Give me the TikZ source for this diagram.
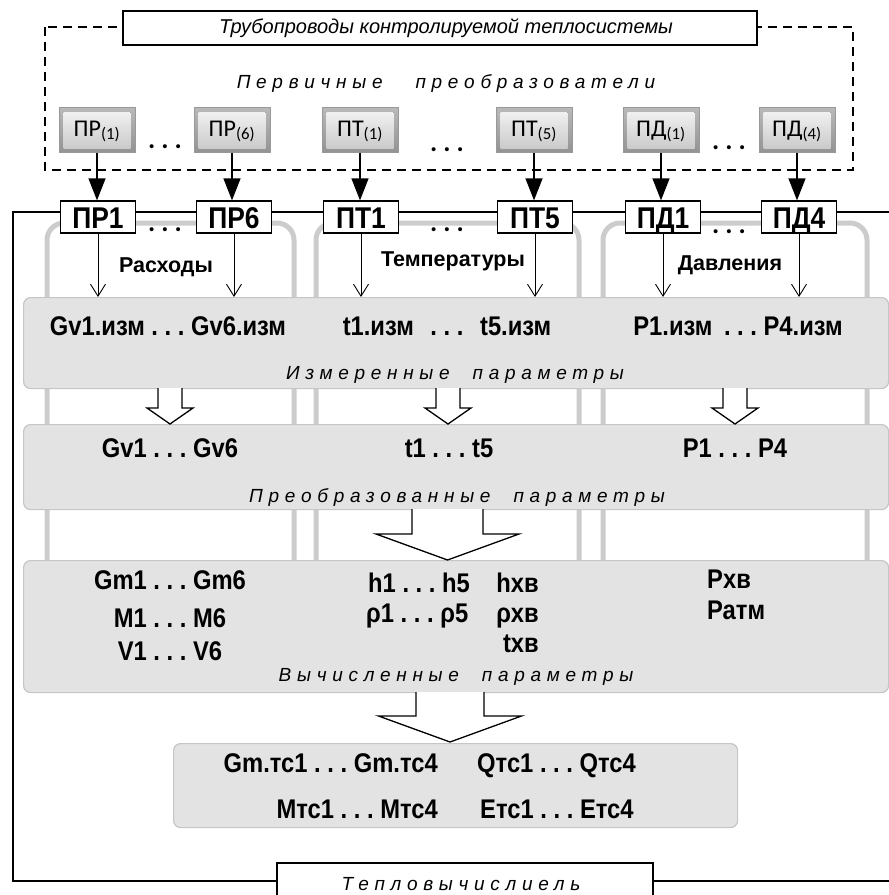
\documentclass[tikz,border=0pt]{standalone}
\usepackage{fontspec}
\setmainfont{Liberation Sans}
\newfontfamily\narrowsans[FakeStretch=0.88]{Liberation Sans}
\newfontfamily\spacedsans[LetterSpace=30]{Liberation Sans}
\newfontfamily\keysans{Carlito}
\usetikzlibrary{arrows.meta,calc}
\tikzset{
  sensor/.style={draw=gray!80,minimum width=76pt,minimum height=45pt,inner sep=0pt,
            top color=gray!55,bottom color=gray!85,text height=17pt,text depth=5pt,
            path picture={\fill[top color=gray!8,bottom color=gray!45]
              ($(path picture bounding box.south west)+(4.5pt,4.5pt)$) rectangle
              ($(path picture bounding box.north east)+(-4.5pt,-4.5pt)$);},
            font=\keysans\fontsize{24}{26}\selectfont},
  chan/.style={draw,line width=1.3pt,fill=white,minimum width=75pt,minimum height=32pt,
            inner sep=0pt,text height=22pt,text depth=0pt,
            font=\narrowsans\bfseries\fontsize{30}{32}\selectfont},
  parbox/.style={draw=gray!45,fill=gray!22,line width=1.2pt,rounded corners=7pt,
            anchor=north west,inner sep=0pt},
  column/.style={line width=5pt,gray!40,rounded corners=17pt},
  val/.style={font=\narrowsans\bfseries\fontsize{27}{30}\selectfont,inner sep=0pt,anchor=base},
  group/.style={font=\bfseries\fontsize{21.5}{24}\selectfont,inner sep=0pt,anchor=base},
  caption/.style={font=\spacedsans\itshape\fontsize{19}{22}\selectfont,inner sep=0pt,anchor=base},
  dots/.style={font=\keysans\bfseries\fontsize{27}{28}\selectfont,inner sep=0pt,anchor=base},
  feed/.style={-{Triangle[length=22pt,width=17pt]},line width=1.3pt},
  wire/.style={-{Straight Barb[length=12pt,width=15pt]},line width=0.9pt},
  hollow/.style={draw,fill=white,line width=1.3pt,line join=miter},
  frame/.style={line width=1.3pt},
  dashframe/.style={line width=1.3pt,dash pattern=on 9pt off 6pt},
}
% x, top, tip, stem half width, head half width, head length
\newcommand\hollowarrow[6]{%
  \draw[hollow] (#1-#4,#2) -- (#1-#4,#3-#6) -- (#1-#5,#3-#6) -- (#1,#3)
    -- (#1+#5,#3-#6) -- (#1+#4,#3-#6) -- (#1+#4,#2);}

\begin{document}
\frenchspacing
\begin{tikzpicture}[x=1pt,y=-1pt]
  \useasboundingbox (0,0) rectangle (889,895);
  \clip (0,0) rectangle (889,895);

  % primary transducers
  \draw[dashframe] (45,27) rectangle (853,170);
  \node[draw,frame,fill=white,minimum width=634pt,minimum height=34pt,inner sep=0pt,
        font=\itshape\fontsize{20}{22}\selectfont] (pipes) at (440,28)
        {\hspace{12pt}Трубопроводы контролируемой теплосистемы};
  \node[caption] (primary) at (446,88) {Первичные\hspace{22pt} преобразователи};

  \node[sensor] (sPR1) at (97,130)  {ПР\textsubscript{(1)}};
  \node[sensor] (sPR6) at (232,130) {ПР\textsubscript{(6)}};
  \node[sensor] (sPT1) at (360,130) {ПТ\textsubscript{(1)}};
  \node[sensor] (sPT5) at (534,130) {ПТ\textsubscript{(5)}};
  \node[sensor] (sPD1) at (661,130) {ПД\textsubscript{(1)}};
  \node[sensor] (sPD4) at (797,130) {ПД\textsubscript{(4)}};
  \node[dots] (sd1) at (165,148) {. . .};
  \node[dots] (sd2) at (447,151) {. . .};
  \node[dots] (sd3) at (729,149) {. . .};

  % heat calculator
  \draw[column] (47,600) -- (47,223) -- (294,223) -- (294,600);
  \draw[column] (316,600) -- (316,223) -- (579,223) -- (579,600);
  \draw[column] (603,600) -- (603,223) -- (867,223) -- (867,600);
  \draw[frame] (900,212) -- (13,212) -- (13,881) -- (900,881);
  \node[draw,frame,fill=white,minimum width=376pt,minimum height=46pt,inner sep=0pt]
        (calc) at (465,886) {};
  \node[caption] (calctext) at (461,890) {Тепловычислиель};

  \node[chan] (kPR1) at (98,217)  {ПР1};
  \node[chan] (kPR6) at (234,217) {ПР6};
  \node[chan] (kPT1) at (361,217) {ПТ1};
  \node[chan] (kPT5) at (535,217) {ПТ5};
  \node[chan] (kPD1) at (663,217) {ПД1};
  \node[chan] (kPD4) at (799,217) {ПД4};
  \node[dots] (kd1) at (165,231) {. . .};
  \node[dots] (kd2) at (447,231) {. . .};
  \node[dots] (kd3) at (729,233) {. . .};
  \node[group] (flows) at (166,272) {Расходы};
  \node[group] (temps) at (453,266) {Температуры};
  \node[group] (press) at (730,270) {Давления};

  \foreach \s in {PR1,PR6,PT1,PT5,PD1,PD4}
    \draw[feed] (s\s.south) -- (s\s.south |- k\s.north);

  \node[parbox,minimum width=865pt,minimum height=91pt]  (measured)  at (23,297) {};
  \node[parbox,minimum width=865pt,minimum height=85pt]  (converted) at (23,424) {};
  \node[parbox,minimum width=865pt,minimum height=132pt] (computed)  at (23,560) {};
  \node[parbox,minimum width=564pt,minimum height=84pt]  (result)    at (173,743) {};

  \foreach \s in {PR1,PR6,PT1,PT5,PD1,PD4}
    \draw[wire] (k\s.south) -- (k\s.south |- measured.north);

  % measured
  \node[val] (mG) at (168,335) {Gv1.изм . . . Gv6.изм};
  \node[val] (mT) at (447,335) {t1.изм\hspace{10pt} . . .\hspace{10pt} t5.изм};
  \node[val] (mP) at (738,335) {P1.изм\hspace{5pt} . . . P4.изм};
  \node[caption] (mCap) at (455,379) {Измеренные\hspace{12pt} параметры};
  \hollowarrow{170}{388}{424}{12}{23}{16}
  \hollowarrow{448}{388}{424}{12}{23}{16}
  \hollowarrow{735}{388}{424}{12}{23}{16}

  % converted
  \node[val] (cG) at (170,457) {Gv1 . . . Gv6};
  \node[val] (cT) at (449,457) {t1 . . . t5};
  \node[val] (cP) at (735,457) {P1 . . . P4};
  \node[caption] (cCap) at (457,502) {Преобразованные\hspace{12pt} параметры};
  \hollowarrow{447.5}{509}{560}{35.5}{71.5}{26}

  % computed
  \node[val] (gm)  at (170,589) {Gm1 . . . Gm6};
  \node[val] (mm)  at (170,627) {M1 . . . M6};
  \node[val] (vv)  at (170,660) {V1 . . . V6};
  \node[val,anchor=base west] (hh)  at (368,592) {h1 . . . h5};
  \node[val,anchor=base west] (rr)  at (366,622) {ρ1 . . . ρ5};
  \node[val,anchor=base east] (hc)  at (539,592) {hхв};
  \node[val,anchor=base east] (rc)  at (539,622) {ρхв};
  \node[val,anchor=base east] (tc)  at (539,652) {tхв};
  \node[val,anchor=base west] (pc)  at (707,588) {Pхв};
  \node[val,anchor=base west] (pa)  at (707,619) {Ратм};
  \node[caption] (kCap) at (456,681) {Вычисленные\hspace{12pt} параметры};
  \hollowarrow{450}{692}{742}{34}{71.5}{26}

  % results
  \node[val,anchor=base east] (rG) at (438,772) {Gm.тс1 . . . Gm.тс4};
  \node[val,anchor=base east] (rM) at (438,818) {Мтс1 . . . Мтс4};
  \node[val,anchor=base west] (rQ) at (477,772) {Qтс1 . . . Qтс4};
  \node[val,anchor=base west] (rE) at (480,818) {Етс1 . . . Етс4};
\end{tikzpicture}
\end{document}
